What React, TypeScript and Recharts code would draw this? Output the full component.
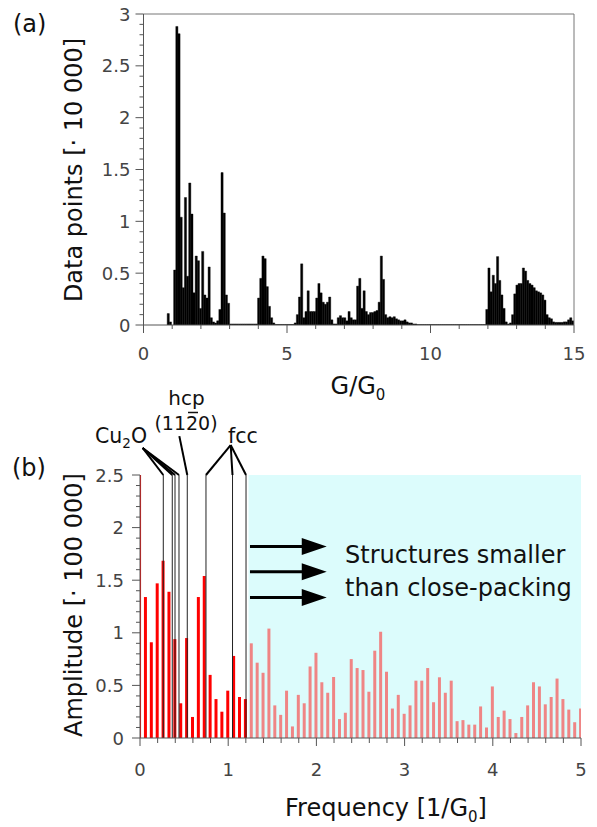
import React from "react";
import { BarChart, Bar, XAxis, YAxis, ReferenceLine, ReferenceArea, Cell } from "recharts";

// (a) conductance histogram, bins of 0.075 G0, counts in units of 10 000
const binWidth = 0.075;
const counts = [
  0, 0, 0, 0, 0, 0, 0, 0, 0, 0,
  0, 0.11, 0.03, 0, 0.53, 2.88, 2.81, 1.04, 0.36, 1.23,
  0.47, 1.37, 1.07, 0.31, 0.665, 0.62, 0.16, 0.71, 0.29, 0.26,
  0.56, 0.07, 0.03, 0.02, 0.04, 0.15, 1.47, 1.08, 0.29, 0.21,
  0.01, 0.01, 0.01, 0.01, 0.01, 0.01, 0.01, 0.01, 0.01, 0.01,
  0.01, 0.01, 0.01, 0.26, 0.45, 0.665, 0.64, 0.37, 0.18, 0.07,
  0.02, 0.005, 0.005, 0.005, 0.005, 0.005, 0.005, 0.005, 0.005, 0.005,
  0.02, 0.1, 0.27, 0.59, 0.07, 0.13, 0.33, 0.13, 0.13, 0.13,
  0.26, 0.4, 0.31, 0.22, 0.2, 0.22, 0.27, 0.05, 0.01, 0.01,
  0.07, 0.09, 0.07, 0.07, 0.04, 0.13, 0.07, 0.05, 0.05, 0.375,
  0.45, 0.16, 0.33, 0.13, 0.1, 0.12, 0.12, 0.13, 0.14, 0.22,
  0.665, 0.44, 0.1, 0.07, 0.08, 0.07, 0.08, 0.06, 0.05, 0.04,
  0.04, 0.05, 0.03, 0.02, 0.02, 0.01, 0.01, 0.004, 0.004, 0.004,
  0.004, 0.004, 0.004, 0.004, 0.004, 0.004, 0.004, 0.004, 0.004, 0.004,
  0.004, 0.004, 0.004, 0.004, 0.004, 0.004, 0.004, 0.004, 0.004, 0.004,
  0.004, 0.004, 0.004, 0.004, 0.004, 0.004, 0.004, 0.004, 0.004, 0.15,
  0.55, 0.32, 0.48, 0.4, 0.66, 0.43, 0.29, 0.16, 0.03, 0.01,
  0.02, 0.1, 0.3, 0.385, 0.4, 0.4, 0.55, 0.52, 0.43, 0.4,
  0.385, 0.36, 0.33, 0.32, 0.31, 0.29, 0.24, 0.1, 0.07, 0.06,
  0.03, 0.025, 0.025, 0.025, 0.025, 0.03, 0.03, 0.05, 0.07, 0.04,
];

// (b) Fourier amplitudes at k/15 [1/G0], units of 100 000 (k=0 is off scale)
const freqStep = 1 / 15;
const amplitudes = [
  3.5, 1.34, 0.91, 1.47, 1.685, 1.39, 0.94, 0.33, 0.95, 0.2,
  1.34, 1.54, 0.6, 0.37, 0.25, 0.45, 0.78, 0.39, 0.37, 0.9,
  0.716, 0.62, 1.04, 0.31, 0.22, 0.45, 0.11, 0.41, 0.33, 0.68,
  0.81, 0.53, 0.43, 0.58, 0.18, 0.24, 0.75, 0.665, 0.646, 0.44,
  0.83, 1.01, 0.63, 0.28, 0.41, 0.23, 0.31, 0.545, 0.545, 0.665,
  0.34, 0.577, 0.43, 0.545, 0.16, 0.17, 0.127, 0.127, 0.3, 0.1,
  0.49, 0.2, 0.26, 0.18, 0.047, 0.2, 0.31, 0.53, 0.49, 0.32,
  0.39, 0.565, 0.37, 0.27, 0.15, 0.28,
];
const closePackCutoff = 1.23;

// structure frequencies marked in (b)
const cu2oFreqs = [0.264, 0.366, 0.397, 0.442];
const hcpFreqs = [0.536];
const fccFreqs = [0.748, 1.049, 1.202];
const cu2oAnchor = { x: 0.03, y: 2.757 };
const hcpAnchor = { x: 0.446, y: 2.87 };
const fccAnchor = { x: 1.028, y: 2.785 };
const arrowRows = [1.82, 1.58, 1.335];
const arrowFrom = 1.247;
const arrowTo = 2.117;

const aXTicks = Array.from({ length: 16 }, (_, i) => i);
const aYTicks = Array.from({ length: 31 }, (_, i) => i / 10);
const bXTicks = Array.from({ length: 26 }, (_, i) => (i * 2) / 10);
const bYTicks = Array.from({ length: 26 }, (_, i) => i / 10);

const histData = counts.map((c, i) => ({ g: (i + 0.5) * binWidth, c }));
const fftData = amplitudes.map((a, k) => ({ f: k * freqStep, a }));

const axisColor = "#555";
const font = "'DejaVu Sans', sans-serif";

type TickOpts = {
  side: "left" | "bottom" | "top" | "right";
  major: number;
  majorLen: number;
  minorLen: number;
  labelGap?: number;
};

function makeTick(o: TickOpts) {
  return (p: any) => {
    const v = p.payload.value;
    const isMajor = Math.abs(v / o.major - Math.round(v / o.major)) < 1e-6;
    const len = isMajor ? o.majorLen : o.minorLen;
    const { x, y } = p;
    let x2 = x;
    let y2 = y;
    if (o.side === "bottom") y2 = y + len;
    if (o.side === "top") y2 = y - len;
    if (o.side === "left") x2 = x - len;
    if (o.side === "right") x2 = x + len;
    const label = isMajor && o.labelGap !== undefined ? String(Math.round(v * 10) / 10) : null;
    return (
      <g>
        <line x1={x} y1={y} x2={x2} y2={y2} stroke={axisColor} strokeWidth={1} />
        {label !== null && o.side === "bottom" && (
          <text x={x} y={y + (o.labelGap as number)} textAnchor="middle" fontSize={18} fontFamily={font} fill="#444">
            {label}
          </text>
        )}
        {label !== null && o.side === "left" && (
          <text x={x - (o.labelGap as number)} y={y + 6.5} textAnchor="end" fontSize={18} fontFamily={font} fill="#444">
            {label}
          </text>
        )}
      </g>
    );
  };
}

const arrowShape = (p: any) => {
  const { x1, y1, x2, y2 } = p;
  return (
    <g>
      <line x1={x1} y1={y1} x2={x2 - 22} y2={y2} stroke="#000" strokeWidth={3} />
      <polygon points={`${x2},${y2} ${x2 - 25},${y2 - 8.5} ${x2 - 25},${y2 + 8.5}`} fill="#000" />
    </g>
  );
};

function HistogramPanel() {
  return (
    <BarChart
      width={597}
      height={400}
      data={histData}
      margin={{ top: 14, right: 23, left: 83.5, bottom: 35 }}
    >
      <XAxis
        type="number"
        dataKey="g"
        domain={[0, 15]}
        ticks={aXTicks}
        interval={0}
        allowDataOverflow
        height={40}
        tickSize={0}
        tickMargin={0}
        axisLine={{ stroke: axisColor }}
        tick={makeTick({ side: "bottom", major: 5, majorLen: 8, minorLen: 4, labelGap: 35 })}
      />
      <YAxis
        type="number"
        domain={[0, 3]}
        ticks={aYTicks}
        interval={0}
        allowDataOverflow
        width={60}
        tickSize={0}
        tickMargin={0}
        axisLine={{ stroke: axisColor }}
        tick={makeTick({ side: "left", major: 0.5, majorLen: 8, minorLen: 4, labelGap: 13 })}
      />
      <ReferenceLine y={3} stroke="#777" />
      <ReferenceLine x={15} stroke="#777" />
      <Bar dataKey="c" fill="#000" stroke="#000" strokeWidth={0.4} barSize={2.15} isAnimationActive={false} />
    </BarChart>
  );
}

function FourierPanel() {
  const annotations = [
    ...cu2oFreqs.map((f) => ({ f, to: cu2oAnchor })),
    ...hcpFreqs.map((f) => ({ f, to: hcpAnchor })),
    ...fccFreqs.map((f) => ({ f, to: fccAnchor })),
  ];
  return (
    <BarChart
      width={597}
      height={447}
      data={fftData}
      margin={{ top: 95, right: 16, left: 80, bottom: 49 }}
    >
      <ReferenceArea x1={closePackCutoff} x2={5} y1={0} y2={2.5} fill="#dcfcfc" fillOpacity={1} stroke="none" />
      <XAxis
        type="number"
        dataKey="f"
        domain={[0, 5]}
        ticks={bXTicks}
        interval={0}
        allowDataOverflow
        height={40}
        tickSize={0}
        tickMargin={0}
        axisLine={{ stroke: axisColor }}
        tick={makeTick({ side: "bottom", major: 1, majorLen: 8, minorLen: 5, labelGap: 37.5 })}
      />
      <XAxis
        xAxisId="top"
        orientation="top"
        type="number"
        dataKey="f"
        domain={[0, 5]}
        ticks={bXTicks}
        interval={0}
        allowDataOverflow
        height={0}
        tickSize={0}
        tickMargin={0}
        axisLine={{ stroke: axisColor }}
        tick={makeTick({ side: "top", major: 1, majorLen: 6, minorLen: 5 })}
      />
      <YAxis
        type="number"
        domain={[0, 2.5]}
        ticks={bYTicks}
        interval={0}
        allowDataOverflow
        width={60}
        tickSize={0}
        tickMargin={0}
        axisLine={{ stroke: axisColor }}
        tick={makeTick({ side: "left", major: 0.5, majorLen: 8, minorLen: 4, labelGap: 16 })}
      />
      <YAxis
        yAxisId="right"
        orientation="right"
        type="number"
        domain={[0, 2.5]}
        ticks={bYTicks}
        interval={0}
        allowDataOverflow
        width={0}
        tickSize={0}
        tickMargin={0}
        axisLine={{ stroke: axisColor }}
        tick={makeTick({ side: "right", major: 0.5, majorLen: 7, minorLen: 4 })}
      />
      <Bar dataKey="a" barSize={3} isAnimationActive={false}>
        {fftData.map((d, i) => (
          <Cell key={i} fill={d.f < closePackCutoff ? "#ff0000" : "#ef8585"} />
        ))}
      </Bar>
      {[...cu2oFreqs, ...hcpFreqs, ...fccFreqs].map((f, i) => (
        <ReferenceLine key={`v${i}`} x={f} stroke="#222" strokeWidth={1} />
      ))}
      {annotations.map((a, i) => (
        <ReferenceLine
          key={`a${i}`}
          segment={[{ x: a.f, y: 2.5 }, { x: a.to.x, y: a.to.y }]}
          stroke="#000"
          strokeWidth={2}
          ifOverflow="visible"
        />
      ))}
      {arrowRows.map((y, i) => (
        <ReferenceLine
          key={`r${i}`}
          segment={[{ x: arrowFrom, y }, { x: arrowTo, y }]}
          shape={arrowShape}
          ifOverflow="visible"
        />
      ))}
    </BarChart>
  );
}

export default function App() {
  return (
    <div style={{ position: "absolute", left: 0, top: 0, width: 597, height: 827, background: "#fff" }}>
      <div style={{ position: "absolute", left: 0, top: 0 }}>
        <HistogramPanel />
      </div>
      <div style={{ position: "absolute", left: 0, top: 380 }}>
        <FourierPanel />
      </div>
      <svg
        width={597}
        height={827}
        style={{ position: "absolute", left: 0, top: 0, pointerEvents: "none" }}
        fontFamily={font}
        fill="#111"
      >
        <text x={13} y={31.5} fontSize={24}>(a)</text>
        <text x={12} y={476} fontSize={24}>(b)</text>
        <text x={358} y={394} fontSize={24} textAnchor="middle">
          G/G<tspan fontSize={15} dy={6}>0</tspan>
        </text>
        <text transform="translate(82,170) rotate(-90)" fontSize={24} textAnchor="middle">
          Data points [· 10 000]
        </text>
        <text transform="translate(82,605) rotate(-90)" fontSize={24} textAnchor="middle">
          Amplitude [· 100 000]
        </text>
        <text x={386} y={816} fontSize={24} textAnchor="middle">
          Frequency [1/G<tspan fontSize={15} dy={6}>0</tspan>
          <tspan dy={-6}>]</tspan>
        </text>
        <text x={95} y={443} fontSize={20.5}>
          Cu<tspan fontSize={13.5} dy={5}>2</tspan>
          <tspan dy={-5}>O</tspan>
        </text>
        <text x={186.5} y={405} fontSize={20} textAnchor="middle">hcp</text>
        <text x={186} y={430} fontSize={19} textAnchor="middle">(1120)</text>
        <line x1={188} y1={412.5} x2={198} y2={412.5} stroke="#111" strokeWidth={1.5} />
        <text x={228} y={443} fontSize={20.5}>fcc</text>
        <text x={345} y={563} fontSize={24}>Structures smaller</text>
        <text x={345} y={596} fontSize={24}>than close-packing</text>
      </svg>
    </div>
  );
}
